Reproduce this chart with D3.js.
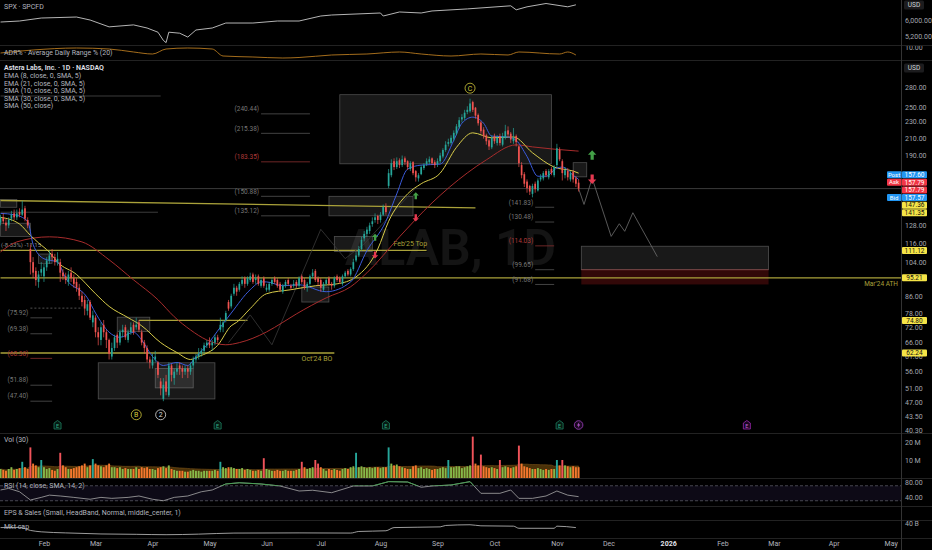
<!DOCTYPE html>
<html>
<head>
<meta charset="utf-8">
<script src="https://cdn.jsdelivr.net/npm/d3@7"></script>
<style>
  html, body { margin: 0; background: #000; overflow: hidden; }
  svg { display: block; font-family: Roboto, "Noto Sans", sans-serif; }
</style>
</head>
<body>
<svg id="chart"></svg>
<script>
// ALAB daily bars, one per trading day from 8 Jan 2025 to 13 Nov 2025
const opens = [
  130,134,130,128,133,137,134,138,136,141,132,112,104,99,93,98,
  96,101,105,109,107,104,104,98,96,93,98,95,93,90,86,84,79,83,74,
  76,70,67,73,70,67,61,64,69,66,70,72,67,70,73,72,74,70,66,64,60,
  58,60,59,53,48,53,49,58,54,56,58,57,56,57,56,58,60,61,62,63,65,
  66,65,66,68,71,72,75,83,81,87,90,89,92,95,92,94,97,94,96,91,95,
  89,89,92,95,94,92,88,91,94,91,91,93,91,96,94,90,92,96,99,95,
  94,89,92,95,92,91,96,95,92,96,99,97,100,105,108,112,119,122,124,129,132,135,
  132,136,142,160,170,184,178,185,180,187,184,176,183,174,167,171,177,181,183,187,183,
  181,184,189,196,203,204,209,215,223,233,235,243,244,257,249,239,229,220,213,207,199,
  212,204,212,202,210,219,215,206,212,200,180,171,164,160,153,162,156,166,167,174,168,176,170,
  180,196,184,170,174,166,173,167,163
];
const highs = [
  136,137,133,134,139,140,140,141,147,143,134,115,107,101,99,104,
  103,107,111,112,109,110,106,100,98,99,101,97,95,92,88,86,84,84,79,
  77,72,74,75,71,67.5,66,69,70,71,73,73,71,74,74,76,75,71,67,65,61,
  62,63,59.5,54,54,55,59,58.5,57,59,59,58,58,58,59,61,62,64,64,66,67,
  68,67,69,69,76,75,79,84,87,92,91,93,96,96,96,98,98,97,97,95,96,
  92,93,95,96,95,93,92,94,95,92,94,94,96,97,95,93,97,100,100,96,
  95,93,95,96,93,96,97,96,97,99,100,101,106,110,114,120,124,127,130,134,137,136,
  138,144,145,176,186,187,188,187,190,189,185,184,184,175,172,180,182,187,189,188,185,
  187,193,198,206,209,213,219,227,236,240,246,251,262,259,250,241,231,223,215,209,213,
  215,213,215,216,226,224,217,222,214,201,183,173,166,161,162,164,167,171,174,176,176,178,180,
  203,199,186,178,177,174,175,169,166
];
const lows = [
  128,129,124,126,131,132,132,134,135,131,126,97,95,91,90,96,
  93,99,103,105,102,102,93,94,92,91,93,90,88,84,81,77,77,75,72,
  68,65,65,68,64,60,60,63,64,65,68,67,66,69,69,71,70,65,62,59,57,
  57,59,54,49,47.4,49,48.5,53,52,55,55,54,55,54,55,57,59,60,61,62,64,
  64,63,65,66,70,70,74,79,80,86,86,88,91,90,91,93,92,92,91,90,90,
  88,88,91,92,90,88,87,90,91,89,90,90,90,92,89,88,91,95,93,91,
  88,88,91,91,89,90,93,92,91,95,96,96,99,104,107,111,117,120,122,127,130,129,
  130,135,136,158,168,175,176,177,178,180,175,174,170,164,164,170,175,179,181,180,177,
  178,182,187,194,200,202,206,213,221,229,232,240,242,243,234,225,215,209,202,196,197,
  203,201,201,200,208,211,204,203,200,178,167,159,154,152,150,154,155,164,165,168,166,170,168,
  178,184,165,167,165,164,163,159,155
];
const closes = [
  134,131,128,132,136,134,137,136,140,133,128,104,98,94,97,100,
  101,105,108,107,104,106,98,96,94,97,95,92,90,86,83,80,82,76,77,
  70,68,72,70,67,62,64,68,66,70,71,68,70,72,70,73,71,66,64,60,59,
  60,61,55,51,52,50,58,55,56,57,57,56,57,56,58,60,61,62,63,65,66,
  65,66,68,67,73,74,78,80,86,90,88,92,94,92,95,96,93,95,92,94,91,
  90,92,94,93,91,89,91,93,92,90,92,91,95,93,90,92,96,98,94,93,
  90,92,94,92,91,95,94,93,96,98,97,100,104,108,112,118,122,125,128,131,134,132,
  136,142,138,172,182,178,184,180,186,183,178,182,172,168,170,178,180,184,186,182,180,
  184,190,196,202,205,210,216,224,232,236,242,246,255,246,238,228,218,212,206,200,210,
  206,210,204,212,218,214,208,210,205,182,170,162,158,155,160,157,165,168,172,170,174,172,178,
  198,186,172,175,168,172,166,162,157.6
];
// volume in millions
const volumes = [
  5,4.5,4,5,6,4.5,5,5.5,9,6,5,17,8,7,6,10,
  6,5,5.5,4.5,4,5,14,7,6,5,5,5.5,6,6.5,7,8,6,7,10.5,
  8,7,6.5,6,7,8,6,6,5.5,6,5,5.5,5,5,5,6,5,6,5.5,6,5,
  5,4.5,5.5,6,6.5,5.5,7,5,4.5,4,4,4,3.5,3.5,4,4.5,4,4,3.5,4,4,
  4,4,4.5,4,9,6,5.5,6,6,5.5,5,5,5.5,4.5,5,4.5,4,4,4.5,4,11,
  5,4.5,4,4,4.5,4,4,4.5,4,4,4,4.5,5,9,6,5,5.5,6,10,8,
  6,5,4,5,4.5,5,4.5,4,5,5.5,5,6,6.5,14,6,6.5,6,5.5,6,5.5,6,6,
  5.5,6,6,17,8,7,7.5,6.5,6,5.5,5,5,6.5,7,5.5,6,5,5.5,5,4.5,5,
  5,5.5,6,5.5,10,6,6,6.5,6.5,5.5,6,6.5,7,23,8,7,13,6.5,6,5.5,6,
  5.5,5,10,6,6.5,6,5.5,6,6.5,18,8,6.5,6,5.5,5,5,5.5,5,4.5,5,4.5,5,5,
  10,7,10,7,6.5,6,6.5,6,6
];

// moving averages (bar = trading day counted from 8 Jan 2025)
const ema8Bar = [0,5,10,12,16,21,24,32,35,40,44,49,52,56,60,65,69,72,76,81,85,92,96,98,104,110,120,129,135,142,146,150,155,162,167,170,174,178,181,187,190,194,198,201,205,207,211,213];
const ema8Val = [137,136,131,115,106,104,95,85,78,70,68,70,67,61,58,59,58,61,65,72,78,89,93,93,91,91.5,88,93,111,131,153,176,180,181,207,228,236,228,212,211,207,189,169,169,177,178,170,166];
const ema21Bar = [0,7,11,14,18,21,28,35,40,47,52,59,65,70,73,80,85,87,92,98,107,116,124,131,139,143,150,155,162,168,174,181,189,196,204,211,213];
const ema21Val = [134,129,121,116,110,104,97,87,81,76,72.6,66,62.4,60,61,65,72.6,74,80,87,89,91,92,95.7,112,131,153,162,172,199,216,210,211,193,178,174,172];
const sma50Bar = [0,6,18,30,40,49,58,64,70,76,83,88,98,104,109,120,129,135,147,159,172,179,190,196,212,213];
const sma50Val = [110.2,116.6,120,116.6,105.4,94.1,84.1,76.4,70.9,67,65.2,66,70.1,74,77.6,85,90.5,97.9,120,145.4,172.2,185.4,201.8,199.5,195,194.8];

// other panes
const spxBar = [0,7,15,28,33,40,49,54,58,60,61,62,66,69,72,78,83,93,102,110,118,122,140,141,147,155,159,172,188,190,194,201,209,212];
const spxVal = [5894,5947,6108,6163,6000,5644,5744,5587,5382,5001,4903,5382,5334,5152,5489,5587,5841,5841,5947,5947,6219,6275,6389,6219,6447,6389,6506,6626,6812,6572,6751,6954,6751,6873];
const adrBar = [0,12,28,40,49,56,61,69,78,82,93,104,110,122,135,147,155,166,177,187,191,206,209,212];
const adrVal = [6.75,8.36,9.43,8.89,7.29,6.21,8.89,9.43,8.89,5.14,4.61,4.07,4.34,5.68,6.21,7.29,6.21,5.14,6.21,5.68,7.29,6.21,7.29,5.68];
const rsiBar = [0,3,7,11,15,18,22,27,33,37,41,47,51,56,60,64,69,74,78,83,88,96,103,110,115,122,130,137,143,150,155,159,166,173,177,184,188,191,196,201,205,209,213];
const rsiVal = [58.7,63,54,32,39,45,42.7,39,34,39,36.4,39,42.7,34,30,39,42.7,54,58.7,74.7,78,74.7,69.3,56,58,51.5,69.3,69.3,81,80,66,69.3,72,81,49.8,49.8,58.7,36.4,36.4,42.7,56,45,40.9];
const capBar = [0,7,11,15,24,37,50,61,73,86,110,129,132,142,145,162,164,173,177,189,191,204,205,212];
const capVal = [28,28.5,20,16,13,10,9,7.9,9.5,12.5,13,12.5,17,19,28,30,34,36,33,32,26,26,32,28];

// axis ticks
const priceTicks = [280,250,230,210,190,128,116,104,86,78,72,66,61,56,51,47,43.5,40.3];
const spxTicks = [5200, 6000];
const volTicks = [10, 20];
const rsiTicks = [40, 80];
const capTicks = [40];

// calendar
const holidays = ["2025-01-09","2025-01-20","2025-02-17","2025-04-18","2025-05-26","2025-06-19","2025-07-04","2025-09-01","2025-11-27","2025-12-25","2026-01-01","2026-01-19","2026-02-16","2026-04-03"];

// drawings on the price pane
const zones = [
  ["2025-01-08","2025-01-17",141.8,148.2],
  ["2025-01-08","2025-01-27",120.3,129.6],
  ["2025-01-30","2025-02-06",103.3,108.9],
  ["2025-03-13","2025-03-31",70.3,76.2],
  ["2025-03-04","2025-05-05",48,58.9],
  ["2025-04-02","2025-04-23",51.1,57],
  ["2025-06-20","2025-07-07",83,90.4],
  ["2025-07-09","2025-07-29",110.4,120.3],
  ["2025-07-07","2025-08-19",135.12,150.88],
  ["2025-07-11","2025-10-30",181.3,268],
  ["2025-11-11","2025-11-18",168.4,182.5],
  ["2025-11-14","2026-02-26",99.65,113.8]
];
const riskZone = ["2025-11-14","2026-02-26",91.68,99.65];
const levels = [   // [from, to, price at from, price at to, label]
  ["2025-01-08","2025-09-22",147.36,141.35,""],
  ["2025-01-08","2025-08-26",111.12,111.12,"Feb'25 Top"],
  ["2025-01-08","2026-05-15",95.21,95.21,"Mar'24 ATH"],
  ["2025-03-25","2025-05-21",74.80,74.80,""],
  ["2025-01-08","2025-07-09",62.24,62.24,"Oct'24 BO"]
];
const greyRays = [["2025-01-08","2025-04-04",266],["2025-01-08","2025-04-03",137.9]];
const measureLine = ["2025-01-27","2025-02-24",80.2];
const fibFrom = ["2025-05-29","2025-10-22","2025-01-27"];
const fibTo = ["2025-06-25","2025-10-31","2025-02-06"];
const fibLevels = [
  [240.44,215.38,183.35,150.88,135.12],
  [141.83,130.48,114.03,99.65,91.68],
  [75.92,69.38,60.38,51.88,47.40]
];
const pathDates = ["2025-11-13","2025-11-17","2025-11-20","2025-12-02","2025-12-05","2025-12-09","2025-12-12","2025-12-26"];
const pathPrices = [157.6,144.1,167.1,120.3,129.2,123.8,137.5,107.3];
const oldPathDates = ["2025-05-12","2025-05-22","2025-06-04","2025-07-01","2025-07-15","2025-07-24","2025-08-20"];
const oldPathPrices = [66,77.2,65.2,125.2,106.1,115.3,158.3];
const arrowDates = ["2025-11-20","2025-11-20","2025-08-20","2025-08-20","2025-07-30","2025-07-30"];
const arrowPrices = [190.2,166.5,151.2,133.7,119.6,108.4];
const arrowUp = [true,false,true,false,true,false];
const waveDates = ["2025-09-18","2025-03-24","2025-04-04"];
const wavePrices = [278,43.9,43.9];
const waveText = ["C","B","2"];
const earnDates = ["2025-02-10","2025-05-06","2025-08-05","2025-11-04","2026-02-13"];
const eventDate = "2025-11-13";

// ---------------------------------------------------------------
const W = 932, H = 550, plotW = 901;
const svg = d3.select("#chart").attr("width", W).attr("height", H);
svg.append("rect").attr("width", W).attr("height", H).attr("fill", "#000");

const pane = {
  spx: [0, 45], adr: [46, 60], main: [60, 433], vol: [433, 478],
  rsi: [479, 506], eps: [506, 520], cap: [520, 538]
};
const defs = svg.append("defs");
Object.entries(pane).forEach(([k, p]) => {
  defs.append("clipPath").attr("id", "clip-" + k).append("rect")
    .attr("x", 0).attr("y", p[0]).attr("width", plotW).attr("height", p[1] - p[0]);
});

const fmtDay = d3.utcFormat("%Y-%m-%d");
const days = d3.utcDays(new Date(Date.UTC(2025, 0, 8)), new Date(Date.UTC(2026, 4, 16)))
  .filter(d => d.getUTCDay() !== 0 && d.getUTCDay() !== 6 && !holidays.includes(fmtDay(d)));
const dayIndex = new Map(days.map((d, i) => [fmtDay(d), i]));
const bar = s => dayIndex.get(s);

const x = d3.scaleLinear().domain([-0.2, 331.8]).range([0, plotW]);
const yMain = d3.scaleLog().domain([39.6, 326]).range([pane.main[1], pane.main[0]]);
const ySpx = d3.scaleLog().domain([4800, 7175]).range([pane.spx[1], pane.spx[0]]);
const yAdr = d3.scaleLinear().domain([3, 10.5]).range([pane.adr[1], pane.adr[0]]);
const yVol = d3.scaleLinear().domain([0, 25]).range([pane.vol[1], pane.vol[0]]);
const yRsi = d3.scaleLinear().domain([16, 88]).range([pane.rsi[1], pane.rsi[0]]);
const yCap = d3.scaleLinear().domain([0, 48]).range([537.5, 520.5]);

const txt = "#b2b5be";
const up = "#26a69a", down = "#ef5350";
const olive = "#aaa23a";

// separators
[45.5, 60.5, 433.5, 478.5, 506.5, 520.5, 538.5].forEach(v => {
  svg.append("line").attr("x1", 0).attr("x2", W).attr("y1", v).attr("y2", v)
    .attr("stroke", "#222").attr("stroke-width", 1);
});
svg.append("line").attr("x1", plotW + 0.5).attr("x2", plotW + 0.5).attr("y1", 0).attr("y2", H)
  .attr("stroke", "#333");

// ---------- SPX + ADR ----------
const spxLine = d3.line().x((d, i) => x(spxBar[i])).y(d => ySpx(d));
svg.append("path").attr("clip-path", "url(#clip-spx)").datum(spxVal)
  .attr("d", spxLine).attr("fill", "none").attr("stroke", "#c8c8c8").attr("stroke-width", 0.9);
const adrLine = d3.line().x((d, i) => x(adrBar[i])).y(d => yAdr(d)).curve(d3.curveMonotoneX);
svg.append("path").attr("clip-path", "url(#clip-adr)").datum(adrVal)
  .attr("d", adrLine).attr("fill", "none").attr("stroke", "#b7791f").attr("stroke-width", 0.9);

// ---------- main pane ----------
const main = svg.append("g").attr("clip-path", "url(#clip-main)");

main.append("text").attr("x", plotW / 2).attr("y", 247).attr("dy", "0.35em")
  .attr("text-anchor", "middle").attr("fill", "#141414")
  .style("font-size", "50px").style("font-weight", 600).text("ALAB, 1D");

main.selectAll(".zone").data(zones).join("rect").attr("class", "zone")
  .attr("x", d => x(bar(d[0]))).attr("width", d => x(bar(d[1])) - x(bar(d[0])))
  .attr("y", d => yMain(d[3])).attr("height", d => yMain(d[2]) - yMain(d[3]))
  .attr("fill", "rgba(190,190,190,0.13)").attr("stroke", "rgba(200,200,200,0.35)").attr("stroke-width", 0.8);
main.append("rect")
  .attr("x", x(bar(riskZone[0]))).attr("width", x(bar(riskZone[1])) - x(bar(riskZone[0])))
  .attr("y", yMain(riskZone[3])).attr("height", yMain(riskZone[2]) - yMain(riskZone[3]))
  .attr("fill", "rgba(110,18,18,0.45)");
main.append("line")
  .attr("x1", x(bar(riskZone[0]))).attr("x2", x(bar(riskZone[1])))
  .attr("y1", yMain(riskZone[3])).attr("y2", yMain(riskZone[3]))
  .attr("stroke", "rgba(200,90,90,0.5)").attr("stroke-width", 0.8);

// price line
main.append("line").attr("x1", 0).attr("x2", plotW)
  .attr("y1", yMain(closes[closes.length - 1])).attr("y2", yMain(closes[closes.length - 1]))
  .attr("stroke", "#4a4a4a").attr("stroke-width", 0.8);

greyRays.forEach(r => {
  main.append("line").attr("x1", x(bar(r[0]))).attr("x2", x(bar(r[1])))
    .attr("y1", yMain(r[2])).attr("y2", yMain(r[2])).attr("stroke", "#3c3c3c").attr("stroke-width", 1);
});
main.append("line").attr("x1", x(bar(measureLine[0]))).attr("x2", x(bar(measureLine[1])))
  .attr("y1", yMain(measureLine[2])).attr("y2", yMain(measureLine[2]))
  .attr("stroke", "#666").attr("stroke-width", 0.8).attr("stroke-dasharray", "2,2");
main.append("text").attr("x", 1).attr("y", 245).attr("dy", "0.35em")
  .attr("fill", "#8a8a8a").style("font-size", "6px").text("(-8.33%) -11.15");

levels.forEach(l => {
  const x1 = Math.max(0, x(bar(l[0]))), x2 = Math.min(plotW, x(bar(l[1])));
  main.append("line").attr("x1", x1).attr("x2", x2)
    .attr("y1", yMain(l[2])).attr("y2", yMain(l[3]))
    .attr("stroke", olive).attr("stroke-width", 1.3);
});
main.append("text").attr("x", x(bar("2025-08-18"))).attr("y", yMain(111.12) - 4)
  .attr("text-anchor", "middle").attr("fill", olive).style("font-size", "7px").text("Feb'25 Top");
main.append("text").attr("x", plotW - 3).attr("y", yMain(95.21) + 8)
  .attr("text-anchor", "end").attr("fill", olive).style("font-size", "6.5px").text("Mar'24 ATH");
main.append("text").attr("x", x(bar("2025-07-09")) - 2).attr("y", yMain(62.24) + 8)
  .attr("text-anchor", "end").attr("fill", olive).style("font-size", "7px").text("Oct'24 BO");

fibLevels.forEach((set, s) => {
  const x1 = x(bar(fibFrom[s])), x2 = x(bar(fibTo[s]));
  set.forEach((v, k) => {
    const red = k === 2;
    main.append("line").attr("x1", x1).attr("x2", x2).attr("y1", yMain(v)).attr("y2", yMain(v))
      .attr("stroke", red ? "#7a2a2a" : "#4a4a4a").attr("stroke-width", 0.9);
    main.append("text").attr("x", x1 - 2).attr("y", yMain(v) - 5).attr("dy", "0.35em")
      .attr("text-anchor", "end").attr("fill", red ? "#b03a3a" : "#777")
      .style("font-size", "6.5px").text("(" + v.toFixed(2) + ")");
  });
});

const pathLine = d3.line().x(d => x(bar(d[0]))).y(d => yMain(d[1]));
main.append("path").datum(oldPathDates.map((d, i) => [d, oldPathPrices[i]]))
  .attr("d", pathLine).attr("fill", "none").attr("stroke", "#3a3a3a").attr("stroke-width", 0.8);
main.append("path").datum(pathDates.map((d, i) => [d, pathPrices[i]]))
  .attr("d", pathLine).attr("fill", "none").attr("stroke", "#6e6e6e").attr("stroke-width", 0.8);

// moving averages
function maPath(bars, vals, color) {
  const line = d3.line().x((d, i) => x(bars[i])).y(d => yMain(d)).curve(d3.curveMonotoneX);
  main.append("path").datum(vals).attr("d", line)
    .attr("fill", "none").attr("stroke", color).attr("stroke-width", 1);
}
maPath(sma50Bar, sma50Val, "#a82c2c");
maPath(ema21Bar, ema21Val, "#d8cc4a");
maPath(ema8Bar, ema8Val, "#3b5bdb");

// candles
const n = Math.min(opens.length, highs.length, lows.length, closes.length);
const candles = d3.range(n).map(i => ({
  i, o: opens[i], c: closes[i],
  h: Math.max(highs[i], opens[i], closes[i]), l: Math.min(lows[i], opens[i], closes[i])
}));
const cg = main.append("g");
cg.selectAll(".wick").data(candles).join("line")
  .attr("x1", d => x(d.i)).attr("x2", d => x(d.i))
  .attr("y1", d => yMain(d.h)).attr("y2", d => yMain(d.l))
  .attr("stroke", d => d.c >= d.o ? up : down).attr("stroke-width", 0.7);
cg.selectAll(".body").data(candles).join("rect")
  .attr("x", d => x(d.i) - 0.85).attr("width", 1.7)
  .attr("y", d => yMain(Math.max(d.o, d.c)))
  .attr("height", d => Math.max(0.8, yMain(Math.min(d.o, d.c)) - yMain(Math.max(d.o, d.c))))
  .attr("fill", d => d.c >= d.o ? up : down);

// signal arrows
arrowDates.forEach((d, k) => {
  const s = k < 2 ? 1 : 0.75;
  const pts = [[0,-5],[4.2,-0.6],[1.6,-0.6],[1.6,4.5],[-1.6,4.5],[-1.6,-0.6],[-4.2,-0.6]]
    .map(p => [p[0] * s, (arrowUp[k] ? p[1] : -p[1]) * s].join(",")).join(" ");
  main.append("polygon").attr("points", pts)
    .attr("transform", `translate(${x(bar(d))},${yMain(arrowPrices[k])})`)
    .attr("fill", arrowUp[k] ? "#43a047" : "#e53950");
});

// wave labels
waveDates.forEach((d, k) => {
  const col = k === 2 ? "#dddddd" : "#d6cc3c";
  const g = main.append("g").attr("transform", `translate(${x(bar(d))},${yMain(wavePrices[k])})`);
  g.append("circle").attr("r", 5).attr("fill", "none").attr("stroke", col).attr("stroke-width", 0.8);
  g.append("text").attr("text-anchor", "middle").attr("dy", "0.35em").attr("fill", col)
    .style("font-size", "7px").text(waveText[k]);
});

// earnings / event markers
earnDates.forEach((d, k) => {
  const future = bar(d) >= n;
  const col = future ? "#9c27b0" : "#1d7f5f";
  const g = main.append("g").attr("transform", `translate(${x(bar(d))},${pane.main[1] - 8})`);
  g.append("path").attr("d", "M-3.5,-2 L0,-4.5 L3.5,-2 L3.5,4 L-3.5,4 Z")
    .attr("fill", future ? "#1a0820" : "#061a13").attr("stroke", col).attr("stroke-width", 0.8);
  g.append("text").attr("text-anchor", "middle").attr("y", 2.6).attr("fill", future ? "#c060d8" : "#2fae86")
    .style("font-size", "5.5px").text("E");
});
{
  const g = main.append("g").attr("transform", `translate(${x(bar(eventDate))},${pane.main[1] - 8})`);
  g.append("circle").attr("r", 4.3).attr("fill", "#1a0820").attr("stroke", "#a040c0").attr("stroke-width", 0.8);
  g.append("path").attr("d", "M0.8,-3 L-1.6,0.4 L0,0.4 L-0.8,3 L1.6,-0.6 L0,-0.6 Z").attr("fill", "#c060d8");
}

// ---------- volume ----------
const volMa = volumes.map((v, i) => d3.mean(volumes.slice(Math.max(0, i - 29), i + 1)));
const vg = svg.append("g").attr("clip-path", "url(#clip-vol)");
vg.append("path").datum(volMa)
  .attr("d", d3.area().x((d, i) => x(i)).y0(yVol(0)).y1(d => yVol(d)))
  .attr("fill", "#4a3108").attr("stroke", "#7a5318").attr("stroke-width", 0.6);
vg.selectAll(".vbar").data(volumes.slice(0, n)).join("rect")
  .attr("x", (d, i) => x(i) - 0.95).attr("width", 1.9)
  .attr("y", d => yVol(d)).attr("height", d => yVol(0) - yVol(d))
  .attr("fill", (d, i) => {
    const isUp = closes[i] >= opens[i], spike = d > 1.35 * volMa[i];
    if (spike) return isUp ? "#26a69a" : "#f0535a";
    return isUp ? "#86b84a" : "#f5782f";
  });

// ---------- RSI ----------
const rg = svg.append("g").attr("clip-path", "url(#clip-rsi)");
rg.append("rect").attr("x", 0).attr("width", plotW).attr("y", yRsi(70)).attr("height", yRsi(30) - yRsi(70))
  .attr("fill", "rgba(120,90,200,0.11)");
[70, 30].forEach(v => rg.append("line").attr("x1", 0).attr("x2", plotW).attr("y1", yRsi(v)).attr("y2", yRsi(v))
  .attr("stroke", "#62646e").attr("stroke-width", 0.7).attr("stroke-dasharray", "3,2"));
const rsiLine = d3.line().x((d, i) => x(rsiBar[i])).y(d => yRsi(d));
rg.append("path").datum(rsiVal).attr("d", rsiLine).attr("fill", "none").attr("stroke", "#a8a8a8").attr("stroke-width", 0.8);
defs.append("clipPath").attr("id", "clip-ob").append("rect")
  .attr("x", 0).attr("y", pane.rsi[0]).attr("width", plotW).attr("height", yRsi(70) - pane.rsi[0]);
rg.append("path").attr("clip-path", "url(#clip-ob)").datum(rsiVal).attr("d", rsiLine)
  .attr("fill", "none").attr("stroke", "#3fa34d").attr("stroke-width", 0.9);

// ---------- market cap ----------
svg.append("path").attr("clip-path", "url(#clip-cap)").datum(capVal)
  .attr("d", d3.line().x((d, i) => x(capBar[i])).y(d => yCap(d)).curve(d3.curveMonotoneX))
  .attr("fill", "none").attr("stroke", "#c4c4c4").attr("stroke-width", 0.8);

// ---------- legends ----------
function label(xp, yp, s, opt = {}) {
  svg.append("text").attr("x", xp).attr("y", yp).attr("dy", "0.35em")
    .attr("fill", opt.fill || txt).style("font-size", (opt.size || 7) + "px")
    .style("font-weight", opt.weight || 400).text(s);
}
label(4, 7, "SPX · SPCFD");
label(4, 53, "ADR% · Average Daily Range % (20)");
label(4, 68, "Astera Labs, Inc. · 1D · NASDAQ", {fill: "#e0e3eb", weight: 600});
["EMA (8, close, 0, SMA, 5)", "EMA (21, close, 0, SMA, 5)", "SMA (10, close, 0, SMA, 5)",
 "SMA (30, close, 0, SMA, 5)", "SMA (50, close)"].forEach((s, k) => label(4, 75.6 + k * 7.6, s));
label(4, 440, "Vol (30)");
label(4, 486, "RSI (14, close, SMA, 14, 2)");
label(4, 513, "EPS & Sales (Small, HeadBand, Normal, middle_center, 1)");
label(4, 527, "Mkt cap");

// ---------- right axes ----------
function rightAxis(scale, ticks, fmt, clip) {
  const g = svg.append("g").attr("transform", `translate(${plotW},0)`)
    .call(d3.axisRight(scale).tickValues(ticks).tickFormat(fmt).tickSize(0).tickPadding(4))
    .attr("font-size", 7).attr("font-family", null);
  g.select(".domain").remove();
  g.selectAll("text").attr("fill", "#a3a6af");
  if (clip) {
    defs.append("clipPath").attr("id", "clip-ax-" + clip).append("rect")
      .attr("x", 0).attr("y", pane[clip][0]).attr("width", W - plotW).attr("height", pane[clip][1] - pane[clip][0]);
    g.attr("clip-path", `url(#clip-ax-${clip})`);
  }
}
rightAxis(ySpx, spxTicks, d3.format(",.2f"));
rightAxis(yAdr, [10], d3.format(".2f"), "adr");
rightAxis(yMain, priceTicks, d3.format(".2f"));
rightAxis(yVol, volTicks, d => d + " M");
rightAxis(yRsi, rsiTicks, d3.format(".2f"));
rightAxis(yCap, capTicks, d => d + " B");

[5, 68].forEach(yy => {
  svg.append("rect").attr("x", 904).attr("y", yy - 4.5).attr("width", 20).attr("height", 9).attr("rx", 1.5).attr("fill", "#1c1c1e");
  svg.append("text").attr("x", 914).attr("y", yy).attr("dy", "0.35em").attr("text-anchor", "middle")
    .attr("fill", "#d1d4dc").style("font-size", "6.5px").text("USD");
});

// price tags
const tagVals = [157.60, 157.79, 157.79, 157.57, 147.36, 141.35, 111.12, 95.21, 74.80, 62.24];
const tagNames = ["Post", "Ask", "", "Bid", "", "", "", "", "", ""];
const tagColors = ["#2196f3", "#f23645", "#f23645", "#2196f3", "#f5e447", "#f5e447", "#f5e447", "#f5e447", "#f5e447", "#f5e447"];
const tagH = 7.6;
const ty = tagVals.map(v => yMain(v));
for (let it = 0; it < 300; it++) {
  for (let k = 1; k < ty.length; k++) {
    const d = ty[k] - ty[k - 1];
    if (d < tagH) { const s = (tagH - d) / 2; ty[k - 1] -= s; ty[k] += s; }
  }
}
tagVals.forEach((v, k) => {
  const dark = tagColors[k] === "#f5e447";
  svg.append("rect").attr("x", plotW + 1).attr("y", ty[k] - tagH / 2 + 0.3).attr("width", 25).attr("height", tagH - 0.6)
    .attr("rx", 1).attr("fill", tagColors[k]);
  svg.append("text").attr("x", plotW + 13.5).attr("y", ty[k]).attr("dy", "0.35em").attr("text-anchor", "middle")
    .attr("fill", dark ? "#111" : "#fff").style("font-size", "6.5px").text(v.toFixed(2));
  if (tagNames[k]) {
    svg.append("rect").attr("x", plotW - 14).attr("y", ty[k] - tagH / 2 + 0.3).attr("width", 14.5).attr("height", tagH - 0.6)
      .attr("rx", 1).attr("fill", tagColors[k]);
    svg.append("text").attr("x", plotW - 7).attr("y", ty[k]).attr("dy", "0.35em").attr("text-anchor", "middle")
      .attr("fill", "#fff").style("font-size", "6px").text(tagNames[k]);
  }
});

// ---------- time axis ----------
const monthTicks = days.map((d, i) => i).filter(i => i > 0 && days[i].getUTCMonth() !== days[i - 1].getUTCMonth());
const ta = svg.append("g").attr("transform", "translate(0,538)")
  .call(d3.axisBottom(x).tickValues(monthTicks).tickSize(0).tickPadding(3)
    .tickFormat(i => days[i].getUTCMonth() === 0 ? d3.utcFormat("%Y")(days[i]) : d3.utcFormat("%b")(days[i])))
  .attr("font-size", 7).attr("font-family", null);
ta.select(".domain").remove();
ta.selectAll("text").attr("fill", txt)
  .style("font-weight", i => days[i].getUTCMonth() === 0 ? 700 : 400)
  .attr("fill", i => days[i].getUTCMonth() === 0 ? "#e0e3eb" : txt);
</script>
</body>
</html>
